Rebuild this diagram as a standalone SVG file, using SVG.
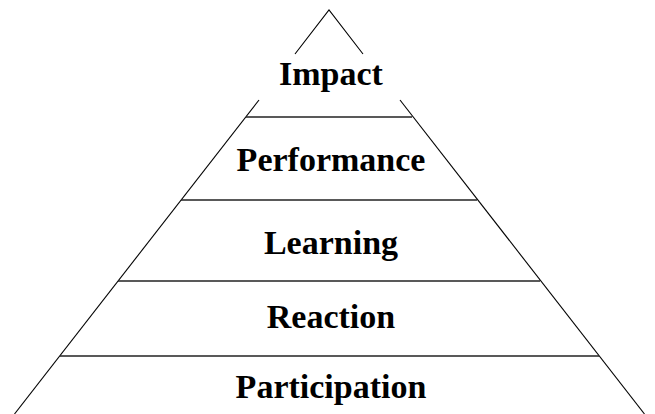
<svg xmlns="http://www.w3.org/2000/svg" width="655" height="414" viewBox="0 0 655 414">
<style>
.edge{stroke:#000;stroke-width:1.1;fill:none}
.div{stroke:#222;stroke-width:1.5;fill:none}
.lbl{font-family:"Liberation Serif","Times New Roman",serif;font-weight:bold;font-size:34px;fill:#000;text-anchor:middle}
</style>
<rect width="655" height="414" fill="#fff"/>
<g id="outline">
<polyline class="edge" points="295,54 329,10 363,54"/>
<line class="edge" x1="259" y1="100" x2="14.5" y2="414"/>
<line class="edge" x1="400" y1="100" x2="644.5" y2="414"/>
</g>
<g id="connectors">
<line class="div" x1="246" y1="117" x2="412" y2="117"/>
<line class="div" x1="181" y1="200" x2="477" y2="200"/>
<line class="div" x1="118" y1="281" x2="540" y2="281"/>
<line class="div" x1="60" y1="356" x2="599" y2="356"/>
</g>
<g id="impact"><text class="lbl" x="331" y="85">Impact</text></g>
<g id="performance"><text class="lbl" x="331" y="171">Performance</text></g>
<g id="learning"><text class="lbl" x="331" y="254">Learning</text></g>
<g id="reaction"><text class="lbl" x="331" y="328">Reaction</text></g>
<g id="participation"><text class="lbl" x="331" y="398">Participation</text></g>
</svg>
